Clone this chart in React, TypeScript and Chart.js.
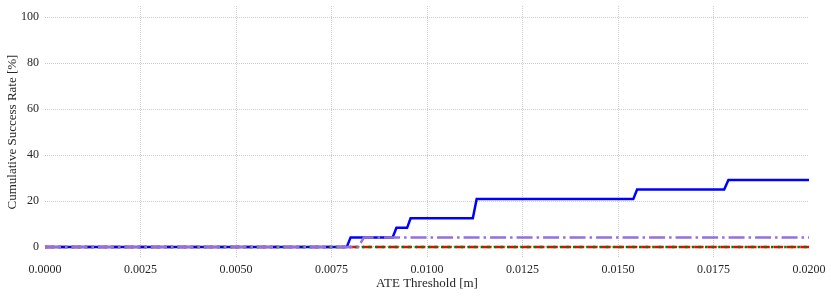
import React, { useEffect, useRef } from "react";
import { Chart, registerables } from "chart.js";

Chart.register(...registerables);

const xTicks = [0, 0.0025, 0.005, 0.0075, 0.01, 0.0125, 0.015, 0.0175, 0.02];
const yTicks = [0, 20, 40, 60, 80, 100];

const blueX = [0, 0.0079, 0.008, 0.0091, 0.0092, 0.00948, 0.00957, 0.0112, 0.0113, 0.0154, 0.0155, 0.01778, 0.01789, 0.02];
const blueY = [0, 0, 4.17, 4.17, 8.33, 8.33, 12.5, 12.5, 20.83, 20.83, 25, 25, 29.17, 29.17];

const purpleX = [0, 0.0082, 0.00835, 0.02];
const purpleY = [0, 0, 4.17, 4.17];

const redX = [0, 0.02];
const redY = [0, 0];

const greenX = [0, 0.02];
const greenY = [0, 0];

const pts = (xs: number[], ys: number[]) => xs.map((x, i) => ({ x, y: ys[i] }));

const FONT = '"Liberation Serif", "DejaVu Serif", serif';
const GRID = "rgba(0,0,0,0.25)";

export default function App() {
  const ref = useRef<HTMLCanvasElement | null>(null);
  useEffect(() => {
    if (!ref.current) return;
    const common = { pointRadius: 0, tension: 0, fill: false, borderWidth: 2.5, borderCapStyle: "butt" as const };
    const chart = new Chart(ref.current, {
      type: "line",
      data: {
        datasets: [
          { ...common, label: "A", data: pts(blueX, blueY), borderColor: "#0000ff", order: 3, borderCapStyle: "square" as const },
          { ...common, label: "B", data: pts(redX, redY), borderColor: "#ff0000", borderDash: [9.25, 4], order: 4 },
          { ...common, label: "C", data: pts(greenX, greenY), borderColor: "#008000", borderDash: [2.5, 4.1], order: 2 },
          { ...common, label: "D", data: pts(purpleX, purpleY), borderColor: "#9370DB", borderDash: [16, 4, 2.5, 4], order: 1 },
        ],
      },
      options: {
        animation: false,
        responsive: false,
        maintainAspectRatio: false,
        layout: { padding: { left: 0, right: 22, top: 6, bottom: 0 } },
        plugins: { legend: { display: false }, tooltip: { enabled: false } },
        scales: {
          x: {
            type: "linear",
            min: 0,
            max: 0.02,
            border: { display: false, dash: [1, 1] },
            afterBuildTicks: (s: any) => {
              s.ticks = xTicks.map((v) => ({ value: v }));
            },
            afterFit: (s: any) => {
              s.height = 39;
              s.paddingLeft = 0;
              s.paddingRight = 0;
            },
            grid: {
              drawTicks: false,
              color: (ctx: any) =>
                ctx.tick && (ctx.tick.value <= 0 || ctx.tick.value >= 0.02) ? "rgba(0,0,0,0)" : GRID,
              lineWidth: 0.8,
            },
            ticks: {
              padding: 5,
              color: "#262626",
              font: { family: FONT, size: 12 },
              maxRotation: 0,
              autoSkip: false,
              callback: (v: any) => Number(v).toFixed(4),
            },
            title: {
              display: true,
              text: "ATE Threshold [m]",
              color: "#262626",
              font: { family: FONT, size: 13 },
              padding: { top: 6, bottom: 6 },
            },
          },
          y: {
            type: "linear",
            min: -4.8,
            max: 104.9,
            border: { display: false, dash: [1, 1] },
            afterBuildTicks: (s: any) => {
              s.ticks = yTicks.map((v) => ({ value: v }));
            },
            afterFit: (s: any) => {
              s.width = 45;
              s.paddingTop = 0;
              s.paddingBottom = 0;
            },
            grid: {
              drawTicks: false,
              color: GRID,
              lineWidth: 0.8,
            },
            ticks: {
              padding: 6,
              color: "#262626",
              font: { family: FONT, size: 12 },
              autoSkip: false,
            },
            title: {
              display: true,
              text: "Cumulative Success Rate [%]",
              color: "#262626",
              font: { family: FONT, size: 13 },
              padding: { top: 5, bottom: 5 },
            },
          },
        },
      },
    });
    return () => chart.destroy();
  }, []);
  return (
    <div style={{ position: "fixed", left: 0, top: 0, width: 831, height: 297, background: "#fff" }}>
      <canvas ref={ref} width={831} height={297} style={{ width: 831, height: 297 }} />
    </div>
  );
}
